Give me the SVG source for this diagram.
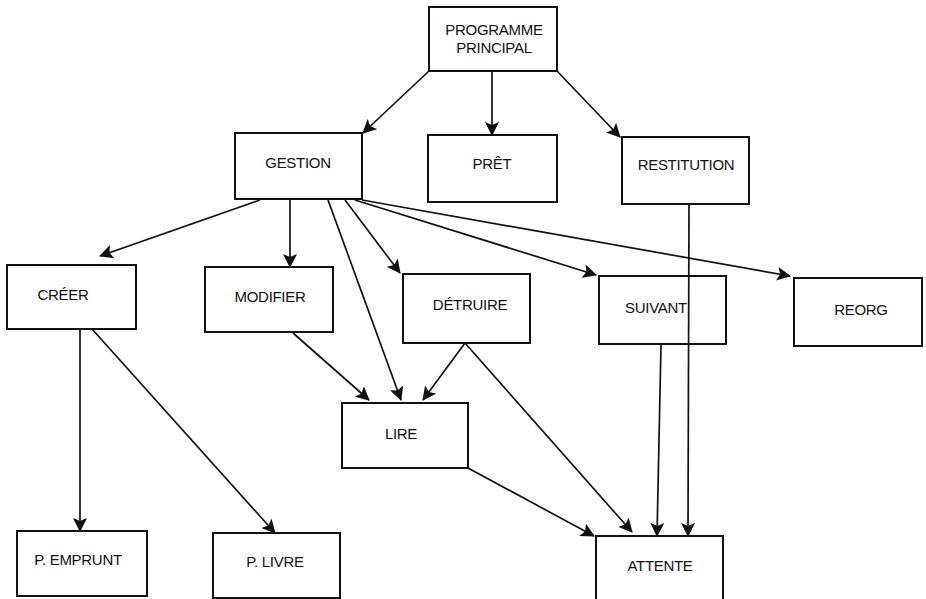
<svg xmlns="http://www.w3.org/2000/svg" width="926" height="599" viewBox="0 0 926 599">
<style>
.box{fill:#fff;stroke:#111;stroke-width:2}
.lbl{font-family:"Liberation Sans",Arial,sans-serif;font-size:15px;fill:#111;text-anchor:middle;letter-spacing:-0.3px}
.edge{fill:none;stroke:#111;stroke-width:1.7}
</style>
<defs>
<marker id="ah" markerWidth="14" markerHeight="14" refX="13" refY="7" orient="auto" markerUnits="userSpaceOnUse">
<path d="M0,0 L14,7 L0,14 L3,7 z" fill="#111"/>
</marker>
</defs>
<g id="connectors">
<line class="edge" x1="429" y1="71" x2="363" y2="133" marker-end="url(#ah)"/>
<line class="edge" x1="492" y1="71" x2="492" y2="135" marker-end="url(#ah)"/>
<line class="edge" x1="557" y1="71" x2="620" y2="137" marker-end="url(#ah)"/>
<line class="edge" x1="260" y1="200" x2="100" y2="256" marker-end="url(#ah)"/>
<line class="edge" x1="290" y1="200" x2="290" y2="267" marker-end="url(#ah)"/>
<line class="edge" x1="328" y1="200" x2="401" y2="400" marker-end="url(#ah)"/>
<line class="edge" x1="345" y1="200" x2="400" y2="273" marker-end="url(#ah)"/>
<line class="edge" x1="355" y1="200" x2="596" y2="275" marker-end="url(#ah)"/>
<line class="edge" x1="362" y1="200" x2="790" y2="276" marker-end="url(#ah)"/>
<line class="edge" x1="80" y1="329" x2="80" y2="531" marker-end="url(#ah)"/>
<line class="edge" x1="92" y1="329" x2="275" y2="533" marker-end="url(#ah)"/>
<line class="edge" x1="293" y1="333" x2="369" y2="400" marker-end="url(#ah)"/>
<line class="edge" x1="465" y1="343" x2="423" y2="400" marker-end="url(#ah)"/>
<line class="edge" x1="465" y1="343" x2="632" y2="532" marker-end="url(#ah)"/>
<line class="edge" x1="468" y1="468" x2="594" y2="536" marker-end="url(#ah)"/>
<line class="edge" x1="661" y1="345" x2="657" y2="536" marker-end="url(#ah)"/>
</g>
<g id="programme-principal"><rect class="box" x="429" y="7" width="128" height="64"/><text class="lbl" x="494" y="35">PROGRAMME</text><text class="lbl" x="494" y="53">PRINCIPAL</text></g>
<g id="gestion"><rect class="box" x="235" y="133" width="127" height="66"/><text class="lbl" x="298" y="168">GESTION</text></g>
<g id="pret"><rect class="box" x="428" y="135" width="129" height="67"/><text class="lbl" x="492" y="169">PRÊT</text></g>
<g id="restitution"><rect class="box" x="622" y="137" width="127" height="67"/><text class="lbl" x="686" y="170">RESTITUTION</text></g>
<g id="creer"><rect class="box" x="7" y="265" width="129" height="64"/><text class="lbl" x="63" y="300">CRÉER</text></g>
<g id="modifier"><rect class="box" x="205" y="267" width="128" height="65"/><text class="lbl" x="270" y="302">MODIFIER</text></g>
<g id="detruire"><rect class="box" x="403" y="274" width="127" height="69"/><text class="lbl" x="470" y="310">DÉTRUIRE</text></g>
<g id="suivant"><rect class="box" x="599" y="276" width="127" height="68"/><text class="lbl" x="656" y="313">SUIVANT</text></g>
<g id="reorg"><rect class="box" x="794" y="278" width="128" height="68"/><text class="lbl" x="861" y="315">REORG</text></g>
<g id="lire"><rect class="box" x="342" y="403" width="126" height="65"/><text class="lbl" x="401" y="439">LIRE</text></g>
<g id="p-emprunt"><rect class="box" x="17" y="531" width="130" height="65"/><text class="lbl" x="78" y="565">P. EMPRUNT</text></g>
<g id="p-livre"><rect class="box" x="213" y="533" width="127" height="65"/><text class="lbl" x="275" y="567">P. LIVRE</text></g>
<g id="attente"><rect class="box" x="596" y="536" width="127" height="70"/><text class="lbl" x="660" y="571">ATTENTE</text></g>
<g id="restitution-link"><line class="edge" x1="689" y1="204" x2="688" y2="536" marker-end="url(#ah)"/></g>
</svg>
